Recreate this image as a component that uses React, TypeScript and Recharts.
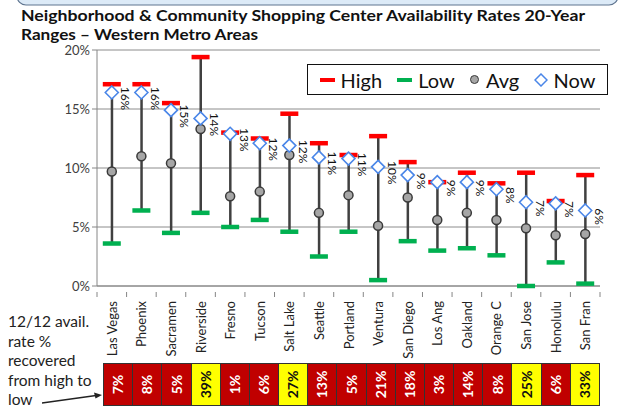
import React from "react";
import {
  ComposedChart,
  Bar,
  Line,
  XAxis,
  YAxis,
  CartesianGrid,
  Legend,
  LabelList,
} from "recharts";

// values, in % availability
const metros = [
  "Las Vegas", "Phoenix", "Sacramen", "Riverside", "Fresno", "Tucson", "Salt Lake", "Seattle",
  "Portland", "Ventura", "San Diego", "Los Ang", "Oakland", "Orange C", "San Jose", "Honolulu", "San Fran",
];
const high = [17.1, 17.1, 15.5, 19.4, 13.0, 12.5, 14.6, 12.1, 11.1, 12.7, 10.5, 8.8, 9.6, 8.7, 9.6, 7.2, 9.4];
const low = [3.6, 6.4, 4.5, 6.2, 5.0, 5.6, 4.6, 2.5, 4.6, 0.5, 3.8, 3.0, 3.2, 2.6, 0.0, 2.0, 0.2];
const avg = [9.7, 11.0, 10.4, 13.3, 7.6, 8.0, 11.1, 6.2, 7.7, 5.1, 7.5, 5.6, 6.2, 5.6, 4.9, 4.3, 4.4];
const now = [16.4, 16.4, 14.9, 14.2, 12.9, 12.1, 11.9, 10.9, 10.8, 10.1, 9.4, 8.8, 8.8, 8.2, 7.1, 7.0, 6.4];
// 12/12 avail. rate % recovered from high to low
const recovered = [7, 8, 5, 39, 1, 6, 27, 13, 5, 21, 18, 3, 14, 8, 25, 6, 33];
const yTicks = [0, 5, 10, 15, 20];

const data = metros.map((m, i) => ({
  metro: m,
  high: high[i],
  low: low[i],
  avg: avg[i],
  now: now[i],
  range: [low[i], high[i]],
}));

const FONT = "Lato, 'Open Sans', sans-serif";
const W = 623;
const H = 409;
const PLOT_LEFT = 97;
const PLOT_RIGHT = 600;
const HALF_BAND = (PLOT_RIGHT - PLOT_LEFT) / metros.length / 2;

const RangeLine = (props: any) => {
  const { x, y, width, height } = props;
  const cx = x + width / 2;
  return <line x1={cx} x2={cx} y1={y} y2={y + height} stroke="#404040" strokeWidth={2.5} />;
};

const Dash = (color: string) => (props: any) => {
  const { cx, cy, index } = props;
  if (cx == null || cy == null) return <g key={index} />;
  return <rect key={index} x={cx - 9} y={cy - 2.25} width={18} height={4.5} fill={color} />;
};

const AvgDot = (props: any) => {
  const { cx, cy, index } = props;
  return <circle key={index} cx={cx} cy={cy} r={4.5} fill="#a6a6a6" stroke="#3a3a3a" strokeWidth={1.5} />;
};

const NowDot = (props: any) => {
  const { cx, cy, index } = props;
  const s = 6.5;
  return (
    <path
      key={index}
      d={`M${cx},${cy - s}L${cx + s},${cy}L${cx},${cy + s}L${cx - s},${cy}Z`}
      fill="#fff"
      stroke="#4a86e8"
      strokeWidth={1.6}
    />
  );
};

const NowLabel = (props: any) => {
  const { x, y, value } = props;
  const tx = x + 14;
  const ty = y + 6;
  return (
    <text
      x={tx}
      y={ty}
      transform={`rotate(90 ${tx} ${ty})`}
      textAnchor="middle"
      dominantBaseline="central"
      fontSize={12}
      fontFamily={FONT}
      fill="#111"
    >
      {Math.round(value)}%
    </text>
  );
};

const MetroTick = (props: any) => {
  const { x, y, payload, index } = props;
  const axisY = y - 2;
  return (
    <g>
      <line x1={x - HALF_BAND} x2={x - HALF_BAND} y1={axisY} y2={axisY + 5} stroke="#868686" />
      {index === metros.length - 1 && (
        <line x1={x + HALF_BAND} x2={x + HALF_BAND} y1={axisY} y2={axisY + 5} stroke="#868686" />
      )}
      <text
        x={x}
        y={axisY + 9}
        transform={`rotate(-90 ${x} ${axisY + 9})`}
        textAnchor="end"
        dominantBaseline="central"
        fontSize={13}
        fontFamily={FONT}
        fill="#222"
      >
        {payload.value}
      </text>
    </g>
  );
};

const renderLegend = () => (
  <div
    style={{
      width: 301,
      height: 31,
      border: "1px solid #111",
      background: "#fff",
      display: "flex",
      alignItems: "center",
      justifyContent: "space-around",
      fontFamily: FONT,
      fontSize: 20,
      color: "#111",
      boxSizing: "border-box",
      padding: "0 4px",
    }}
  >
    <span style={{ display: "flex", alignItems: "center" }}>
      <span style={{ width: 15, height: 4, background: "#ff0000", marginRight: 6 }} />High
    </span>
    <span style={{ display: "flex", alignItems: "center" }}>
      <span style={{ width: 15, height: 4, background: "#00b050", marginRight: 6 }} />Low
    </span>
    <span style={{ display: "flex", alignItems: "center" }}>
      <span
        style={{
          width: 7,
          height: 7,
          borderRadius: "50%",
          background: "#a6a6a6",
          border: "1.5px solid #3a3a3a",
          marginRight: 7,
        }}
      />
      Avg
    </span>
    <span style={{ display: "flex", alignItems: "center" }}>
      <svg width={14} height={14} style={{ marginRight: 5 }}>
        <path d="M7,1L13,7L7,13L1,7Z" fill="#fff" stroke="#4a86e8" strokeWidth={1.5} />
      </svg>
      Now
    </span>
  </div>
);

export default function App() {
  return (
    <div style={{ position: "absolute", left: 0, top: 0, width: W, height: H, background: "#fff", overflow: "hidden" }}>
      {/* top banner edge and title */}
      <svg width={W} height={46} style={{ position: "absolute", left: 0, top: 0 }}>
        <rect x={17} y={-20} width={601} height={25} rx={9} fill="#dceaf7" stroke="#5f7590" strokeWidth={1.2} />
        <text x={21} y={21} textLength={564} lengthAdjust="spacingAndGlyphs" fontFamily={FONT} fontWeight={700} fontSize={15} fill="#111">
          Neighborhood &amp; Community Shopping Center Availability Rates 20-Year
        </text>
        <text x={21} y={40} textLength={237} lengthAdjust="spacingAndGlyphs" fontFamily={FONT} fontWeight={700} fontSize={15} fill="#111">
          Ranges – Western Metro Areas
        </text>
      </svg>

      <div style={{ position: "absolute", left: 0, top: 0 }}>
        <ComposedChart width={W} height={H} data={data} margin={{ top: 50, right: 23, left: 57, bottom: 51 }}>
          <CartesianGrid vertical={false} stroke="#8c8c8c" />
          <XAxis
            dataKey="metro"
            interval={0}
            height={72}
            tickLine={false}
            axisLine={{ stroke: "#868686" }}
            tick={<MetroTick />}
          />
          <YAxis
            domain={[0, 20]}
            ticks={yTicks}
            width={40}
            tickSize={5}
            tickLine={{ stroke: "#868686" }}
            axisLine={{ stroke: "#868686" }}
            tickFormatter={(v) => `${v}%`}
            tick={{ fontSize: 13, fontFamily: FONT, fill: "#404040" }}
          />
          <Legend
            layout="vertical"
            align="center"
            verticalAlign="middle"
            content={renderLegend}
            wrapperStyle={{ position: "absolute", left: 307, top: 64, width: 301, height: 31 }}
          />
          <Bar dataKey="range" shape={<RangeLine />} isAnimationActive={false} />
          <Line dataKey="high" stroke="none" dot={Dash("#ff0000")} activeDot={false} isAnimationActive={false} />
          <Line dataKey="low" stroke="none" dot={Dash("#00b050")} activeDot={false} isAnimationActive={false} />
          <Line dataKey="avg" stroke="none" dot={AvgDot} activeDot={false} isAnimationActive={false} />
          <Line dataKey="now" stroke="none" dot={NowDot} activeDot={false} isAnimationActive={false}>
            <LabelList dataKey="now" content={NowLabel} />
          </Line>
        </ComposedChart>
      </div>

      {/* recovered-rate table */}
      <div
        style={{
          position: "absolute",
          left: 103,
          top: 363,
          width: 497,
          height: 43,
          display: "flex",
          border: "1px solid #333",
          boxSizing: "border-box",
        }}
      >
        {recovered.map((r, i) => (
          <div
            key={i}
            style={{
              flex: 1,
              background: r >= 25 ? "#ffff00" : "#c00000",
              color: r >= 25 ? "#111" : "#fff",
              borderLeft: i === 0 ? "none" : "1px solid #333",
              display: "flex",
              alignItems: "center",
              justifyContent: "center",
              fontFamily: FONT,
              fontWeight: 700,
              fontSize: 14,
            }}
          >
            <span style={{ transform: "rotate(-90deg)", whiteSpace: "nowrap" }}>{r}%</span>
          </div>
        ))}
      </div>

      <div
        style={{
          position: "absolute",
          left: 8,
          top: 312,
          width: 95,
          fontFamily: FONT,
          fontSize: 15.5,
          lineHeight: "19.5px",
          color: "#222",
        }}
      >
        12/12 avail.<br />rate %<br />recovered<br />from high to<br />low
      </div>
      <svg width={110} height={20} style={{ position: "absolute", left: 0, top: 389 }}>
        <line x1={42} y1={14} x2={96} y2={6.5} stroke="#222" strokeWidth={1.3} />
        <path d="M102,6L94,3.5L95.5,9.5Z" fill="#222" />
      </svg>
    </div>
  );
}
